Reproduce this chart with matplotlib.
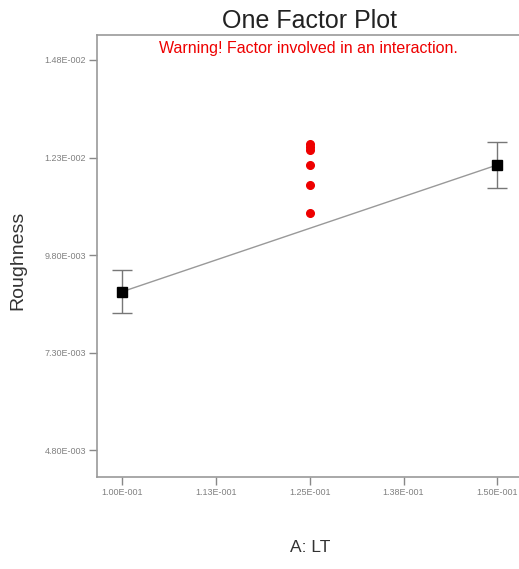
import matplotlib
matplotlib.use("Agg")
import matplotlib.pyplot as plt
from matplotlib.ticker import FixedLocator, FixedFormatter

plt.rcParams['font.family'] = ['Liberation Sans', 'DejaVu Sans']

# Data
factor_levels = [0.100, 0.150]
mean_roughness = [0.00886, 0.01211]
lsd_halfwidth = [0.00055, 0.00059]
center_x = [0.125, 0.125, 0.125, 0.125, 0.125, 0.125]
center_roughness = [0.01265, 0.01258, 0.01249, 0.01211, 0.01159, 0.01087]
x_ticks = [0.100, 0.1125, 0.125, 0.1375, 0.150]
x_labels = ["1.00E-001", "1.13E-001", "1.25E-001", "1.38E-001", "1.50E-001"]
y_ticks = [0.0048, 0.0073, 0.0098, 0.0123, 0.0148]
y_labels = ["4.80E-003", "7.30E-003", "9.80E-003", "1.23E-002", "1.48E-002"]

W, H = 519, 569
fig = plt.figure(figsize=(W / 100, H / 100), dpi=100)
ax = fig.add_axes([97 / W, 1 - 477 / H, (519 - 97) / W, (477 - 35) / H])

ax.plot(factor_levels, mean_roughness, color="#999999", lw=1.0, zorder=2)
ax.errorbar(factor_levels, mean_roughness, yerr=lsd_halfwidth, fmt="none",
            ecolor="#777777", elinewidth=1.0, capsize=7.2, capthick=1.0, zorder=3)
ax.plot(factor_levels, mean_roughness, ls="none", marker="s", ms=7,
        color="black", zorder=4)
ax.plot(center_x, center_roughness, ls="none", marker="o", ms=5.5,
        color="#ee0000", zorder=4)

ax.set_xlim(0.09663, 0.15289)
ax.set_ylim(0.004108, 0.015441)
ax.xaxis.set_major_locator(FixedLocator(x_ticks))
ax.xaxis.set_major_formatter(FixedFormatter(x_labels))
ax.yaxis.set_major_locator(FixedLocator(y_ticks))
ax.yaxis.set_major_formatter(FixedFormatter(y_labels))
ax.tick_params(axis="both", direction="out", length=6, width=1, color="#888888",
               labelsize=6.5, labelcolor="#808080", pad=2)

ax.spines["right"].set_visible(False)
for side in ["left", "bottom", "top"]:
    ax.spines[side].set_color("#999999")
    ax.spines[side].set_linewidth(1.2)

fig.text(310 / W, 1 - 21 / H, "One Factor Plot", ha="center", va="center",
         fontsize=18, color="#222222")
fig.text(308 / W, 1 - 48 / H, "Warning! Factor involved in an interaction.",
         ha="center", va="center", fontsize=11.5, color="#ee0000")
fig.text(18 / W, 1 - 260 / H, "Roughness", rotation=90, ha="center", va="center",
         fontsize=14, color="#333333")
fig.text(310 / W, 1 - 548 / H, "A: LT", ha="center", va="center",
         fontsize=12.5, color="#333333")

fig.savefig("out.png", dpi=100)
